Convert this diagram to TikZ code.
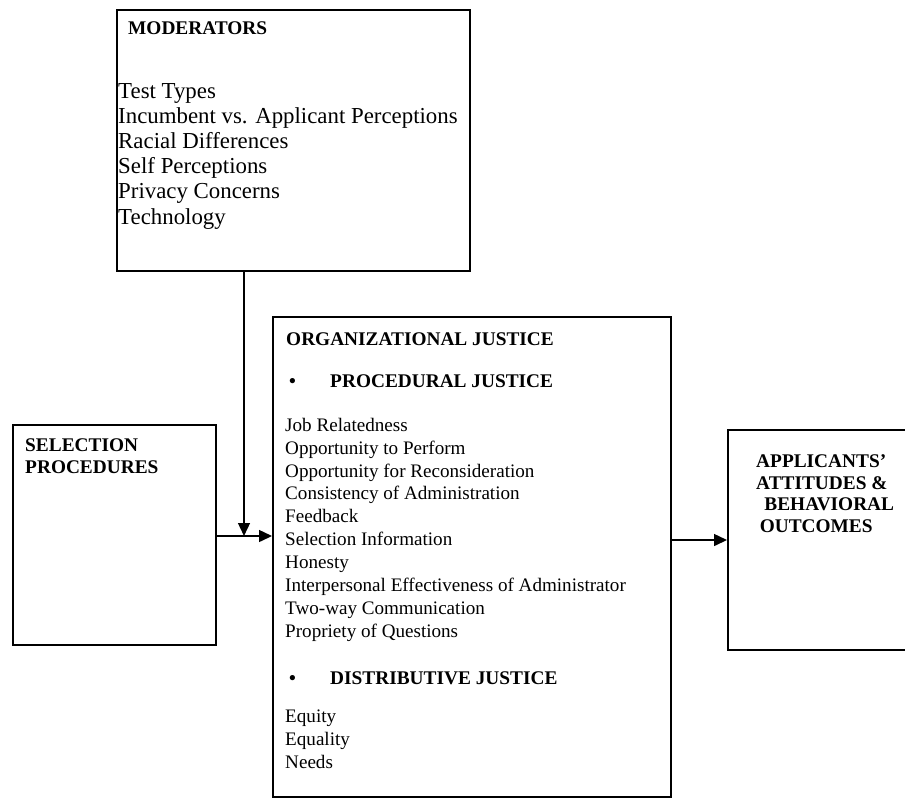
\documentclass[tikz,border=0pt]{standalone}
\usepackage{fontspec}
\setmainfont{Liberation Serif}
\usetikzlibrary{arrows.meta,positioning}

\begin{document}
\begin{tikzpicture}[x=0.03cm, y=-0.03cm, >={Triangle[length=11pt,width=10pt]},
  panel/.style={draw, line width=1.6pt, inner sep=0pt},
  headtxt/.style={inner sep=0pt, anchor=base west, align=left, font=\fontsize{16.5}{18.3}\selectfont\bfseries},
  modtxt/.style={inner sep=0pt, anchor=base west, align=left, font=\fontsize{19.5}{21.4}\selectfont},
  itemtxt/.style={inner sep=0pt, anchor=base west, align=left, font=\fontsize{16.3}{19.5}\selectfont},
  link/.style={->, line width=1.6pt}]
\useasboundingbox (0,0) rectangle (905,801);
\clip (0,0) rectangle (905,801);
% boxes
\node[panel, minimum width=10.59cm, minimum height=7.83cm] (mod) at (293.5,140.5) {};
\node[panel, minimum width=6.09cm, minimum height=6.6cm] (sel) at (114.5,535) {};
\node[panel, minimum width=11.94cm, minimum height=14.4cm] (org) at (472,557) {};
\node[panel, minimum width=6.06cm, minimum height=6.6cm] (app) at (829,540) {};
% texts (multi-line nodes sit on the base of their last line)
\node[headtxt] (modhead) at (128,34) {MODERATORS};
\node[modtxt] (modlist) at (118,224) {Test Types\\Incumbent vs. Applicant Perceptions\\Racial Differences\\Self Perceptions\\Privacy Concerns\\Technology};
\node[headtxt] (selhead) at (25,473) {SELECTION\\PROCEDURES};
\node[headtxt] (orghead) at (286,345) {ORGANIZATIONAL JUSTICE};
\node[headtxt] (probul) at (289,387) {\textbullet};
\node[headtxt] (prohead) at (330,387) {PROCEDURAL JUSTICE};
\node[itemtxt] (prolist) at (285,637) {Job Relatedness\\Opportunity to Perform\\Opportunity for Reconsideration\\Consistency of Administration\\Feedback\\Selection Information\\Honesty\\Interpersonal Effectiveness of Administrator\\Two-way Communication\\Propriety of Questions};
\node[headtxt] (disbul) at (289,684) {\textbullet};
\node[headtxt] (dishead) at (330,684) {DISTRIBUTIVE JUSTICE};
\node[itemtxt] (dislist) at (285,768) {Equity\\Equality\\Needs};
\node[headtxt] (apphead) at (756,532) {APPLICANTS'\\ATTITUDES \&\\\hspace{7pt}BEHAVIORAL\\\hspace{3pt}OUTCOMES};
% arrows
\coordinate (join) at (244,536);
\draw[link] (mod.south -| join) -- (join);
\draw[link] (sel.east |- join) -- (org.west |- join);
\draw[link] (org.east |- app.west) -- (app.west);
\end{tikzpicture}
\end{document}
